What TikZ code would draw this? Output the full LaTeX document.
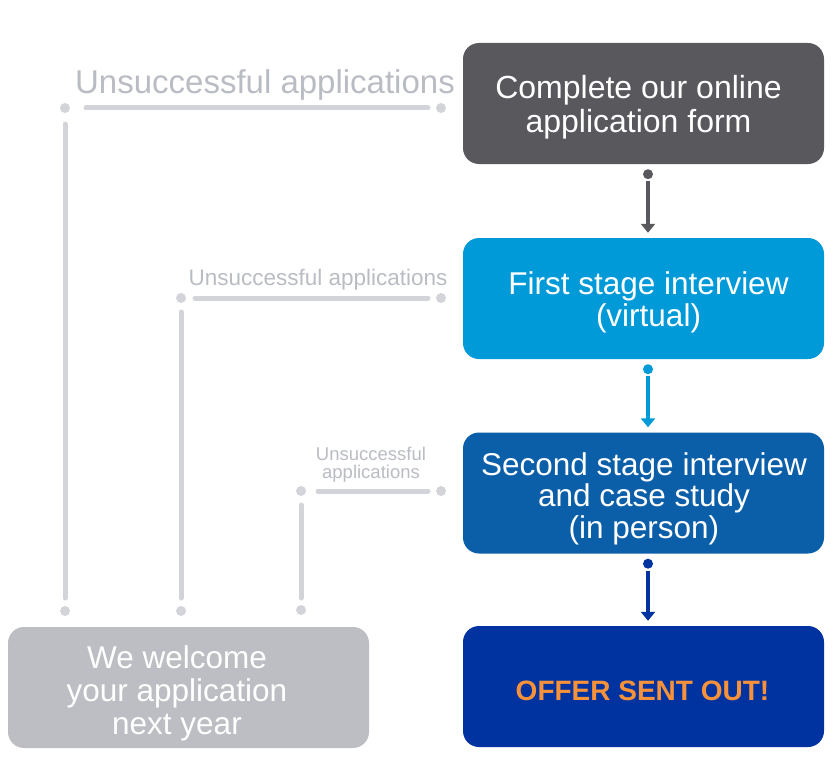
\documentclass[tikz,border=0pt]{standalone}
\usepackage{fontspec}
\setmainfont{Liberation Sans}
\usetikzlibrary{arrows.meta}
\definecolor{darkgreybox}{HTML}{59585D}
\definecolor{lightbluebox}{HTML}{009AD8}
\definecolor{midbluebox}{HTML}{0B5EA8}
\definecolor{darkbluebox}{HTML}{0033A0}
\definecolor{greybox}{HTML}{BCBEC3}
\definecolor{lineg}{HTML}{D2D4DA}
\definecolor{labelg}{HTML}{B9BCC3}
\definecolor{offerorange}{HTML}{F7923A}
\begin{document}
\begin{tikzpicture}[x=1pt,y=-1pt,
  box/.style={rounded corners=16pt, minimum width=361pt, minimum height=121pt, inner sep=0pt},
  boxtext/.style={text=white, align=center, inner sep=0pt, anchor=base},
  gline/.style={draw=lineg, line width=5pt, line cap=round},
  gdot/.style={fill=lineg},
  flow/.style={line width=4pt, -{Triangle[width=14pt,length=9pt]}},
  lab/.style={text=labelg, anchor=base, align=center, inner sep=0pt}
]
\useasboundingbox (0,0) rectangle (834,773);

% boxes
\node[box, fill=darkgreybox] (b1) at (643.5,103.5) {};
\node[box, fill=lightbluebox] (b2) at (643.5,298.5) {};
\node[box, fill=midbluebox] (b3) at (643.5,493) {};
\node[box, fill=darkbluebox] (b4) at (643.5,686.5) {};
\node[box, fill=greybox] (g) at (188.5,687.5) {};

% box texts (anchored at the baseline of the last line)
\node[boxtext, font=\fontsize{32}{33.5}\selectfont] (b1t) at (638.5,132)
  {Complete our online\\application form};
\node[boxtext, font=\fontsize{31.5}{32}\selectfont] (b2t) at (648.5,326)
  {First stage interview\\(virtual)};
\node[boxtext, font=\fontsize{31.5}{31.5}\selectfont] (b3t) at (644,538)
  {Second stage interview\\and case study\\(in person)};
\node[boxtext, text=offerorange, font=\fontsize{28}{30}\selectfont\bfseries] (b4t) at (642.5,700)
  {OFFER SENT OUT!};
\node[boxtext, font=\fontsize{31.5}{33}\selectfont] (gt) at (177,734)
  {We welcome\\your application\\next year};

% flow arrows
\foreach \a/\b/\c in {b1/b2/darkgreybox, b2/b3/lightbluebox, b3/b4/darkbluebox}{
  \coordinate (\a dot) at ([xshift=4.5pt,yshift=-10pt]\a.south);
  \fill[\c] (\a dot) circle[radius=5pt];
  \draw[flow, \c] ([yshift=-7pt]\a dot) -- ([xshift=4.5pt,yshift=5pt]\b.north);
}

% unsuccessful connectors
\coordinate (t1) at (441,108);
\coordinate (t2) at (65,108);
\coordinate (t3) at (65,611);
\coordinate (m1) at (441,298);
\coordinate (m2) at (181,298);
\coordinate (m3) at (181,611);
\coordinate (s1) at (441,491);
\coordinate (s2) at (301,491);
\coordinate (s3) at (301,610);

\foreach \p in {t1,t2,t3,m1,m2,m3,s1,s2,s3}{
  \fill[gdot] (\p) circle[radius=5pt];
}
\draw[gline] ([xshift=-13pt]t1) -- ([xshift=21pt]t2);
\draw[gline] ([yshift=-16pt]t2) -- ([yshift=13pt]t3);
\draw[gline] ([xshift=-13pt]m1) -- ([xshift=14pt]m2);
\draw[gline] ([yshift=-14pt]m2) -- ([yshift=13pt]m3);
\draw[gline] ([xshift=-13pt]s1) -- ([xshift=17pt]s2);
\draw[gline] ([yshift=-14pt]s2) -- ([yshift=12pt]s3);

% labels
\node[lab, font=\fontsize{33}{33}\selectfont] (l1) at (265,94) {Unsuccessful applications};
\node[lab, font=\fontsize{22.5}{24}\selectfont] (l2) at (318,285) {Unsuccessful applications};
\node[lab, font=\fontsize{18.5}{17.5}\selectfont] (l3) at (371,478) {Unsuccessful\\applications};
\end{tikzpicture}
\end{document}
